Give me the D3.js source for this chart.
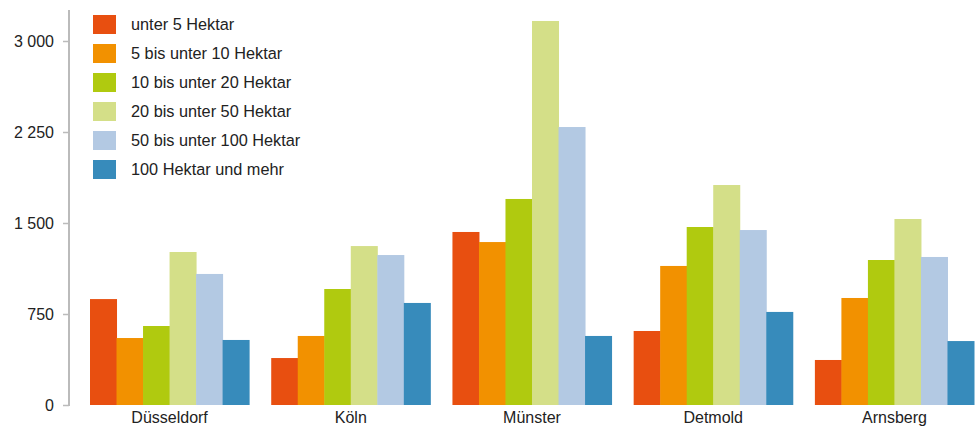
<!DOCTYPE html>
<html>
<head>
<meta charset="utf-8">
<script src="https://cdn.jsdelivr.net/npm/d3@7"></script>
<style>
  html, body { margin: 0; padding: 0; background: #fff; }
  svg { display: block; font-family: "Liberation Sans", Arial, sans-serif; }
</style>
</head>
<body>
<svg id="chart" width="979" height="426"></svg>
<script>
// Regierungsbezirke and farm size classes
const regions = ["Düsseldorf", "Köln", "Münster", "Detmold", "Arnsberg"];
const sizeClasses = [
  "unter 5 Hektar",
  "5 bis unter 10 Hektar",
  "10 bis unter 20 Hektar",
  "20 bis unter 50 Hektar",
  "50 bis unter 100 Hektar",
  "100 Hektar und mehr"
];
const classColors = ["#E84F10", "#F29100", "#B0CA0F", "#D4DF88", "#B3C9E3", "#378BBB"];

// Number of farms per size class (one value per region)
const under5    = [873, 387, 1426, 610, 371];
const from5     = [552, 569, 1343, 1146, 882];
const from10    = [651, 956, 1698, 1467, 1195];
const from20    = [1261, 1310, 3165, 1813, 1533];
const from50    = [1080, 1236, 2291, 1442, 1220];
const over100   = [536, 841, 569, 767, 527];
const seriesValues = [under5, from5, from10, from20, from50, over100];

const yTicks = [0, 750, 1500, 2250, 3000];
const yTickLabels = ["0", "750", "1 500", "2 250", "3 000"];

const svg = d3.select("#chart");

const y = d3.scaleLinear().domain([0, 3000]).range([405, 41]);
const x0 = d3.scaleBand().domain(regions).range([90, 974]).paddingInner(0.122).paddingOuter(0);
const x1 = d3.scaleBand().domain(d3.range(sizeClasses.length)).range([0, x0.bandwidth()]);

// bars
const groups = svg.append("g").selectAll("g")
  .data(regions)
  .join("g")
  .attr("transform", d => `translate(${x0(d)},0)`);

groups.selectAll("rect")
  .data((r, ri) => seriesValues.map((vals, si) => ({ si, v: vals[ri] })))
  .join("rect")
  .attr("x", d => x1(d.si))
  .attr("width", x1.bandwidth() + 0.5)
  .attr("y", d => y(d.v))
  .attr("height", d => y(0) - y(d.v))
  .attr("fill", d => classColors[d.si]);

// y axis
const yAxis = d3.axisLeft(y)
  .tickValues(yTicks)
  .tickFormat((d, i) => yTickLabels[i])
  .tickSizeInner(6)
  .tickSizeOuter(0)
  .tickPadding(9);

const ya = svg.append("g").attr("transform", "translate(69,0)").call(yAxis);
ya.select(".domain").remove();
ya.selectAll(".tick line").attr("stroke", "#bbb").attr("stroke-width", 1.5);
ya.selectAll(".tick text")
  .attr("fill", "#222")
  .style("font-size", "16px")
  .style("font-family", "'Liberation Sans', Arial, sans-serif");
svg.append("line")
  .attr("x1", 69).attr("x2", 69)
  .attr("y1", 10).attr("y2", 406)
  .attr("stroke", "#bbb").attr("stroke-width", 2);

// x labels
const xAxis = d3.axisBottom(x0).tickSize(0).tickPadding(7);
const xa = svg.append("g").attr("transform", "translate(0,405)").call(xAxis);
xa.select(".domain").remove();
xa.selectAll(".tick text")
  .attr("fill", "#222")
  .style("font-size", "16px")
  .style("font-family", "'Liberation Sans', Arial, sans-serif");

// legend
const legend = svg.append("g").attr("transform", "translate(93,15)");
const items = legend.selectAll("g")
  .data(sizeClasses)
  .join("g")
  .attr("transform", (d, i) => `translate(0,${i * 29})`);
items.append("rect")
  .attr("width", 23).attr("height", 19)
  .attr("fill", (d, i) => classColors[i]);
items.append("text")
  .attr("x", 38).attr("y", 15)
  .attr("fill", "#222")
  .style("font-size", "16.3px")
  .text(d => d);
</script>
</body>
</html>
